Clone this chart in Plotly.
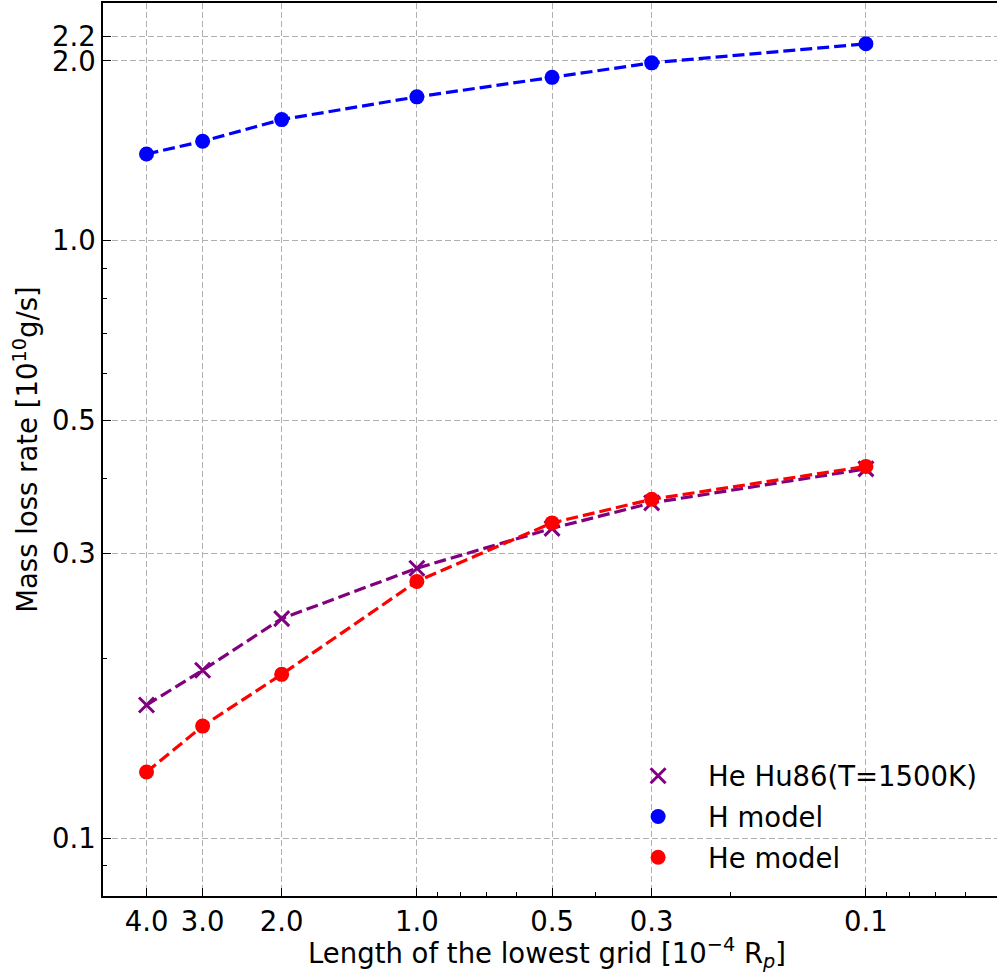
import numpy as np
import plotly.graph_objects as go

# Data
grid_length = [4.0, 3.0, 2.0, 1.0, 0.5, 0.3, 0.1]
he_hu86 = [0.167, 0.191, 0.233, 0.283, 0.330, 0.364, 0.415]
h_model = [1.397, 1.467, 1.595, 1.741, 1.877, 1.985, 2.136]
he_model = [0.129, 0.154, 0.188, 0.269, 0.337, 0.369, 0.419]

x_ticks = [4.0, 3.0, 2.0, 1.0, 0.5, 0.3, 0.1]
x_ticktext = ["4.0", "3.0", "2.0", "1.0", "0.5", "0.3", "0.1"]
x_minor = [0.9, 0.8, 0.7, 0.6, 0.4, 0.2, 0.09, 0.08, 0.07, 0.06]
y_ticks = [0.1, 0.3, 0.5, 1.0, 2.0, 2.2]
y_ticktext = ["0.1", "0.3", "0.5", "1.0", "2.0", "2.2"]
y_minor = [0.09, 0.2, 0.4, 0.6, 0.7, 0.8, 0.9]

x_title = "Length of the lowest grid [10<sup>−4</sup> R<sub><i>p</i></sub>]"
y_title = "Mass loss rate [10<sup>10</sup>g/s]"

FONT = "DejaVu Sans"
FS = 27.5
series = [
    ("He Hu86(T=1500K)", he_hu86, "#800080", "x-thin"),
    ("H model", h_model, "#0000ff", "circle"),
    ("He model", he_model, "#ff0000", "circle"),
]

fig = go.Figure()
for name, vals, col, sym in series:
    fig.add_trace(go.Scatter(
        x=grid_length, y=vals, mode="lines",
        line=dict(color=col, width=3.2, dash="12px,5px"),
        showlegend=False, hoverinfo="skip"))
    if sym == "x-thin":
        mk = dict(symbol=sym, size=15, color=col, line=dict(color=col, width=3))
    else:
        mk = dict(symbol=sym, size=15, color=col, line=dict(width=0))
    fig.add_trace(go.Scatter(
        x=grid_length, y=vals, mode="markers", name=name,
        marker=mk, legendgroup=name))

axis_common = dict(
    type="log", showline=True, linecolor="black", linewidth=1.6,
    ticks="inside", ticklen=8, tickwidth=1.4, tickcolor="black",
    showgrid=True, gridcolor="#b0b0b0", gridwidth=1.4, griddash="6px,3px",
    tickfont=dict(family=FONT, size=FS, color="black"),
    zeroline=False, layer="above traces",
)

fig.update_layout(
    width=997, height=973,
    margin=dict(l=103, r=0, t=3, b=77),
    plot_bgcolor="white", paper_bgcolor="white",
    font=dict(family=FONT, size=FS, color="black"),
    xaxis=dict(
        **axis_common,
        range=[np.log10(5.0), -1.2919],
        tickmode="array", tickvals=x_ticks, ticktext=x_ticktext,
        mirror=True,
        minor=dict(tickmode="array", tickvals=x_minor, ticks="inside",
                   ticklen=4, tickwidth=1.1, tickcolor="black", showgrid=False),
    ),
    yaxis=dict(
        **axis_common,
        range=[np.log10(0.08), np.log10(2.5)],
        tickmode="array", tickvals=y_ticks, ticktext=y_ticktext,
        mirror=False,
        minor=dict(tickmode="array", tickvals=y_minor, ticks="inside",
                   ticklen=4, tickwidth=1.1, tickcolor="black", showgrid=False),
        title=dict(text=y_title, font=dict(family=FONT, size=FS), standoff=6),
    ),
    legend=dict(
        x=0.565, y=0.162, xanchor="left", yanchor="top",
        bgcolor="rgba(255,255,255,0)", borderwidth=0,
        font=dict(family=FONT, size=FS),
        itemwidth=90, tracegroupgap=2,
    ),
    annotations=[dict(
        text=x_title, xref="paper", yref="paper", x=0.4966, y=-0.064,
        xanchor="center", yanchor="middle", showarrow=False,
        font=dict(family=FONT, size=FS, color="black"))],
)

fig.write_html("out.html", config={"displayModeBar": False},
               post_script="document.body.style.margin='0px';")
